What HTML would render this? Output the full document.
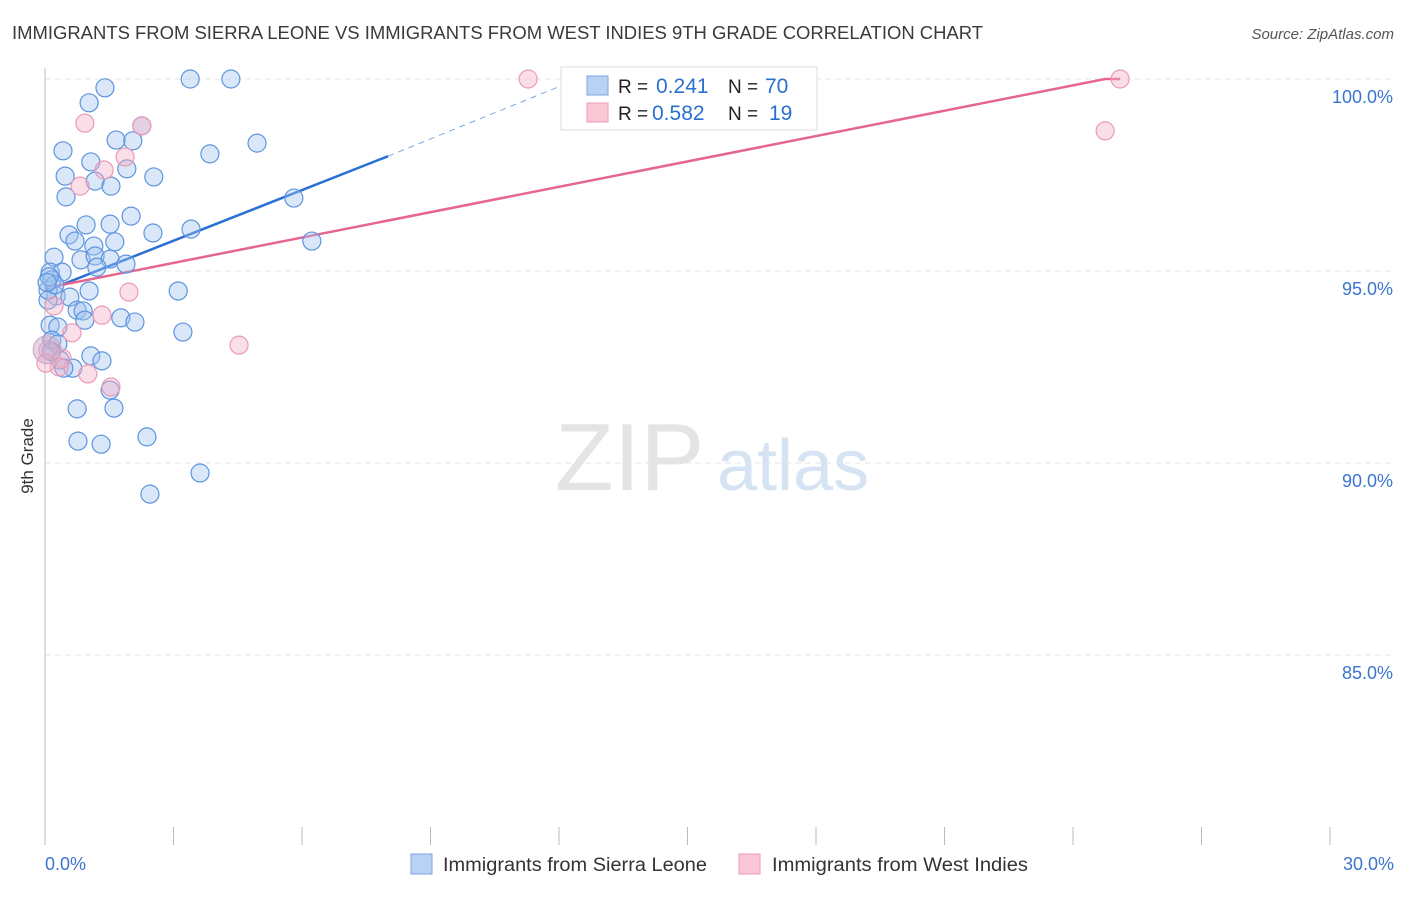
<!DOCTYPE html>
<html><head><meta charset="utf-8">
<style>
body{margin:0;background:#fff;font-family:"Liberation Sans",sans-serif;}
svg text{font-family:"Liberation Sans",sans-serif;}
</style></head>
<body>
<svg id="chart" width="1406" height="892" xmlns="http://www.w3.org/2000/svg">
<text x="12" y="39" font-size="18" fill="#3a3a3a" textLength="971" lengthAdjust="spacingAndGlyphs">IMMIGRANTS FROM SIERRA LEONE VS IMMIGRANTS FROM WEST INDIES 9TH GRADE CORRELATION CHART</text>
<text x="1394" y="39" font-size="15" fill="#555" font-style="italic" text-anchor="end">Source: ZipAtlas.com</text>
<text transform="translate(33,456) rotate(-90)" font-size="17" fill="#333" text-anchor="middle">9th Grade</text>
<text x="555" y="490" font-size="96" fill="#e4e4e4" font-family="Liberation Serif">ZIP</text>
<text x="717" y="490" font-size="72" fill="#d6e3f3">atlas</text>
<g id="grid"></g>
<g id="axes"></g>
<g id="lines"></g>
<g id="points"></g>
<g>
<rect x="561" y="67" width="256" height="63" fill="#fff" stroke="#ddd"/>
<rect x="587" y="76" width="21" height="19" fill="#b8d2f3" stroke="#7aa6e0"/>
<text x="618" y="93" font-size="19" fill="#222">R = </text>
<text x="656" y="93" font-size="21" fill="#2b6fd0">0.241</text>
<text x="728" y="93" font-size="19" fill="#222">N = </text>
<text x="765" y="93" font-size="21" fill="#2b6fd0">70</text>
<rect x="587" y="103" width="21" height="19" fill="#f9c7d6" stroke="#ec9cb5"/>
<text x="618" y="120" font-size="19" fill="#222">R = </text>
<text x="652" y="120" font-size="21" fill="#2b6fd0">0.582</text>
<text x="728" y="120" font-size="19" fill="#222">N = </text>
<text x="769" y="120" font-size="21" fill="#2b6fd0">19</text>
</g>
<g>
<rect x="411" y="854" width="21" height="20" fill="#b8d2f3" stroke="#7aa6e0"/>
<text x="443" y="871" font-size="19" fill="#333" textLength="264" lengthAdjust="spacingAndGlyphs">Immigrants from Sierra Leone</text>
<rect x="739" y="854" width="21" height="20" fill="#f9c7d6" stroke="#ec9cb5"/>
<text x="772" y="871" font-size="19" fill="#333" textLength="256" lengthAdjust="spacingAndGlyphs">Immigrants from West Indies</text>
</g>
</svg>
<script>
const blueX=[1.40,1.03,3.39,4.34,2.26,1.66,2.05,4.95,0.42,3.85,1.07,1.91,0.47,2.54,1.17,1.54,0.49,5.81,2.01,0.96,1.52,3.41,2.52,0.56,0.70,1.14,1.63,0.21,0.84,1.17,1.52,1.21,1.89,6.23,0.12,0.40,0.16,0.26,1.03,3.11,0.07,0.58,0.75,0.89,0.93,1.77,2.10,3.22,0.12,0.30,0.35,1.07,1.33,0.65,0.44,1.52,1.61,0.75,0.77,1.31,2.38,3.62,2.45,0.16,0.07,0.23,0.10,0.05,0.30,0.15];
const blueY=[99.77,99.38,100,100,98.78,98.41,98.39,98.33,98.13,98.05,97.84,97.66,97.47,97.45,97.34,97.21,96.93,96.90,96.43,96.20,96.22,96.09,95.99,95.94,95.78,95.65,95.76,95.36,95.29,95.39,95.31,95.10,95.18,95.78,94.97,94.97,94.77,94.35,94.48,94.48,94.24,94.32,93.98,93.96,93.72,93.78,93.67,93.41,93.59,93.54,92.68,92.79,92.66,92.47,92.47,91.90,91.43,91.41,90.57,90.49,90.68,89.74,89.19,93.20,94.5,94.64,94.85,94.7,93.1,92.9];
const pinkX=[11.28,25.10,24.75,0.93,2.26,1.87,1.38,0.82,0.21,1.96,1.33,0.63,4.53,0.07,0.40,0.33,1.00,1.54,0.02];
const pinkY=[100,100,98.65,98.85,98.78,97.97,97.63,97.21,94.09,94.45,93.85,93.39,93.07,92.94,92.73,92.50,92.32,91.98,92.60];
const blueLineX=[0,8.01,12.26];
const blueLineY=[94.47,97.99,99.92];
const pinkLineX=[0,24.75,25.1];
const pinkLineY=[94.55,100,100];
const yTicks=[100,95,90,85];
const yTickLabels=["100.0%","95.0%","90.0%","85.0%"];
const xTickLabels=["0.0%","30.0%"];

const NS="http://www.w3.org/2000/svg";
const sx=v=>45+v*(1285/30);
const sy=v=>79+(100-v)*38.4;
function mk(t,a,p){const e=document.createElementNS(NS,t);for(const k in a)e.setAttribute(k,a[k]);p.appendChild(e);return e;}
const grid=document.getElementById('grid'),axes=document.getElementById('axes'),lines=document.getElementById('lines'),pts=document.getElementById('points');
yTicks.forEach((v,i)=>{
 const l=mk('line',{x1:45,x2:1394,y1:sy(v),y2:sy(v),stroke:'#e6e6e6','stroke-dasharray':'6,4'},grid);
 
 
 const t=mk('text',{x:1393,y:sy(v)+24,'font-size':18,fill:'#3b75d0','text-anchor':'end'},axes);
 t.textContent=yTickLabels[i];
 
 
});
const ax=mk('line',{x1:45,x2:45,y1:68,y2:845,stroke:'#bbb'},axes);


for(let i=0;i<=10;i++){
 const tk=mk('line',{x1:sx(i*3),x2:sx(i*3),y1:827,y2:845,stroke:'#bbb'},axes);
 
 
}
[[0,'start',45],[30,'end',1394]].forEach((d,i)=>{
 const t=mk('text',{x:d[2],y:870,'font-size':18,fill:'#3b75d0','text-anchor':d[1]},axes);
 t.textContent=xTickLabels[i];
 
 
});
const bl=mk('line',{x1:sx(blueLineX[0]),y1:sy(blueLineY[0]),x2:sx(blueLineX[1]),y2:sy(blueLineY[1]),stroke:'#2a6fd6','stroke-width':2.5},lines);


const bd=mk('line',{x1:sx(blueLineX[1]),y1:sy(blueLineY[1]),x2:sx(blueLineX[2]),y2:sy(blueLineY[2]),stroke:'#7aa6e0','stroke-width':1,'stroke-dasharray':'6,5'},lines);


const pl=mk('polyline',{points:pinkLineX.map((x,i)=>sx(x)+','+sy(pinkLineY[i])).join(' '),fill:'none',stroke:'#e5668f','stroke-width':2.5},lines);


blueX.forEach((x,i)=>{
 const c=mk('circle',{cx:sx(x),cy:sy(blueY[i]),r:9,fill:'rgba(160,196,240,0.4)',stroke:'#5c95de','stroke-width':1.2},pts);
 
 
});
pinkX.forEach((x,i)=>{
 const c=mk('circle',{cx:sx(x),cy:sy(pinkY[i]),r:9,fill:'rgba(245,175,198,0.4)',stroke:'#eb9ab5','stroke-width':1.2},pts);
 
 
});
const big=mk('circle',{cx:sx(0.05),cy:sy(92.95),r:14,fill:'rgba(200,170,200,0.5)',stroke:'#d9a0bd','stroke-width':1},pts);


</script>
</body></html>
